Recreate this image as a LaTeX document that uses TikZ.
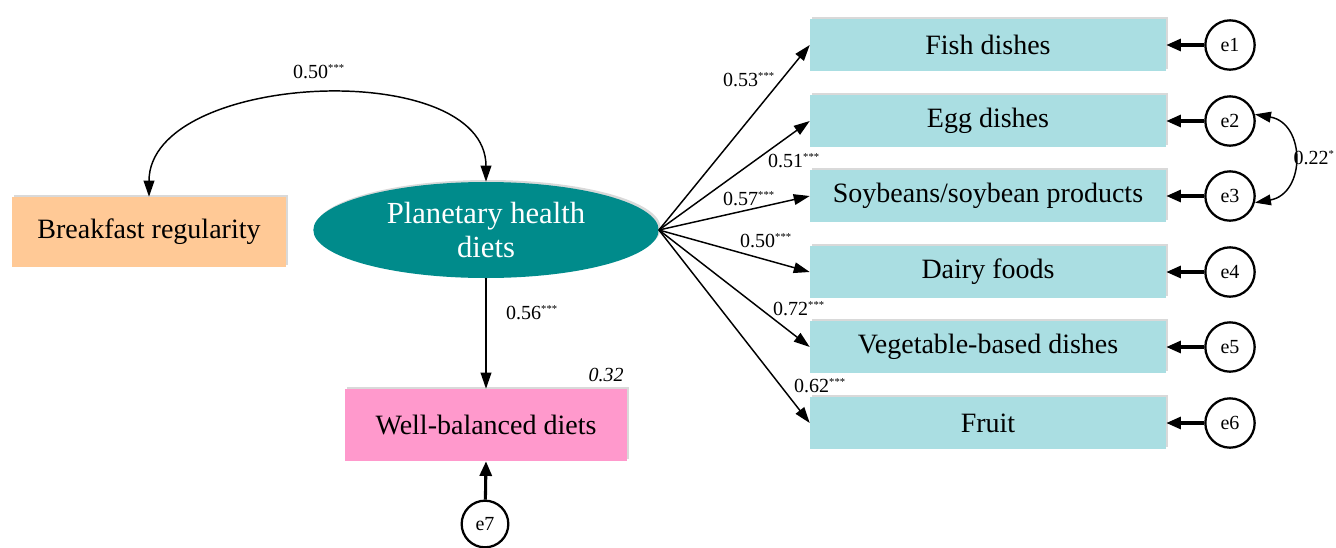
\documentclass[tikz,border=0pt]{standalone}
\usepackage{fontspec}
\setmainfont{Liberation Serif}
\usetikzlibrary{arrows.meta,shapes.geometric,shadows}
\definecolor{brkorange}{RGB}{255,201,150}
\definecolor{phdteal}{RGB}{0,139,139}
\definecolor{wbdpink}{RGB}{255,153,204}
\definecolor{foodcyan}{RGB}{170,222,226}
\newcommand{\stars}[1]{\textsuperscript{\fontsize{8}{8}\selectfont #1}}
\begin{document}
\begin{tikzpicture}[x=0.75pt,y=-0.75pt,
    shade box/.style={rectangle,draw=none,inner sep=0pt,
        font=\fontsize{21}{24}\selectfont,
        drop shadow={shadow xshift=1.5pt,shadow yshift=1.5pt,opacity=0.3}},
    foodbox/.style={shade box,fill=foodcyan,minimum width=267pt,minimum height=39pt},
    errc/.style={circle,draw,line width=1.7pt,minimum size=37pt,inner sep=0pt,
        font=\fontsize{15}{18}\selectfont},
    coef/.style={font=\fontsize{15}{18}\selectfont,inner sep=1pt},
    load/.style={-{Triangle[length=12pt,width=8pt]},line width=1.1pt},
    errarrow/.style={-{Triangle[length=11pt,width=9pt]},line width=2.3pt},
    covar/.style={{Triangle[length=12pt,width=8pt]}-{Triangle[length=12pt,width=8pt]},line width=1.1pt}]
    \useasboundingbox (0,0) rectangle (1336,547);

    %latent and outcome
    \node[shade box,fill=brkorange,minimum width=205.5pt,minimum height=52.5pt] (brk) at (149,232) {Breakfast regularity};
    \node[ellipse,fill=phdteal,text=white,minimum width=259pt,minimum height=72pt,inner sep=0pt,align=center,
        font=\fontsize{23}{26}\selectfont,drop shadow={shadow xshift=1.5pt,shadow yshift=1.5pt,opacity=0.3}] (phd) at (486,230) {Planetary health\\diets};
    \node[shade box,fill=wbdpink,minimum width=211.5pt,minimum height=54pt] (wbd) at (486,425) {Well-balanced diets};
    \node[errc,minimum size=35pt] (e7) at (485,524) {e7};

    %indicators
    \node[foodbox] (fish) at (988,45) {Fish dishes};
    \node[foodbox] (egg) at (988,121) {Egg dishes};
    \node[foodbox] (soy) at (988,196) {Soybeans/soybean products};
    \node[foodbox] (dairy) at (988,272) {Dairy foods};
    \node[foodbox] (veg) at (988,347) {Vegetable-based dishes};
    \node[foodbox] (fruit) at (988,423) {Fruit};

    \foreach \f/\k/\yy in {fish/1/45,egg/2/121,soy/3/196,dairy/4/272,veg/5/347,fruit/6/423}{
        \node[errc] (e\k) at (1230,\yy) {e\k};
        \draw[errarrow] (e\k) -- (\f);
        \draw[load] (phd.east) -- (\f.west);
    }

    %paths
    \draw[covar] (brk.north) to[out=90,in=90,looseness=0.95] (phd.north);
    \node[coef] (c50) at (319,72) {0.50\stars{***}};
    \draw[load] (phd.south) -- (wbd.north);
    \node[coef] (c56) at (532,313) {0.56\stars{***}};
    \node[coef,font=\fontsize{15}{18}\selectfont\itshape] (r32) at (606,375) {0.32};
    \draw[errarrow] (e7) -- (wbd.south);

    \node[coef] (c53) at (749,80) {0.53\stars{***}};
    \node[coef] (c51) at (794,161) {0.51\stars{***}};
    \node[coef] (c57) at (749,199) {0.57\stars{***}};
    \node[coef] (c50b) at (766,241) {0.50\stars{***}};
    \node[coef] (c72) at (799,309) {0.72\stars{***}};
    \node[coef] (c62) at (820,386) {0.62\stars{***}};

    %e2 with e3
    \draw[covar] (e2.15) to[out=-10,in=10,looseness=1.5] (e3.-15);
    \node[coef,anchor=west] (c22) at (1292,158) {0.22\stars{*}};
\end{tikzpicture}
\end{document}
